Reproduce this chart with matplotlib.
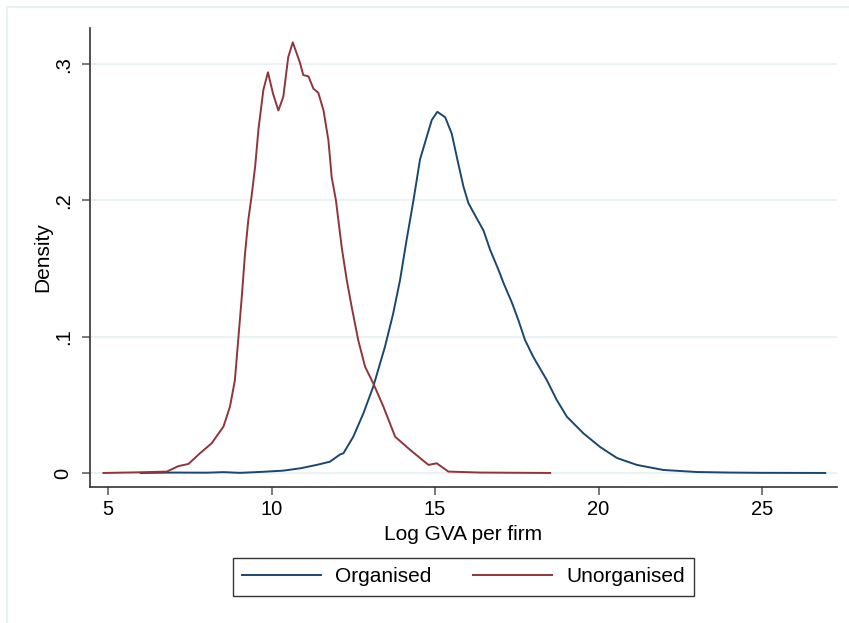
import numpy as np
from matplotlib import pyplot as plt

# kernel density curves
org_x = [6.0, 7.0, 8.0, 8.53, 9.04, 9.7, 10.36, 10.9, 11.38, 11.79, 12.09, 12.2, 12.5,
         12.81, 13.11, 13.47, 13.72, 13.93, 14.13, 14.34, 14.54, 14.75, 14.9, 15.07,
         15.31, 15.51, 15.71, 15.87, 16.02, 16.27, 16.48, 16.68, 16.94, 17.1, 17.35,
         17.55, 17.75, 18.0, 18.42, 18.72, 19.03, 19.54, 20.05, 20.56, 21.17, 21.98,
         23.0, 24.0, 25.0, 26.93]
org_y = [0.0, 0.0003, 0.0002, 0.0006, 0.0001, 0.0008, 0.0017, 0.0035, 0.0059, 0.0083,
         0.0135, 0.0145, 0.0266, 0.0438, 0.0633, 0.0927, 0.117, 0.1416, 0.171, 0.2,
         0.23, 0.247, 0.259, 0.265, 0.261, 0.249, 0.227, 0.21, 0.198, 0.187, 0.178,
         0.164, 0.149, 0.139, 0.125, 0.112, 0.0976, 0.0853, 0.068, 0.0536, 0.0413,
         0.029, 0.019, 0.011, 0.0059, 0.0022, 0.0007, 0.0003, 0.0001, 0.0]

unorg_x = [4.86, 6.0, 6.8, 7.15, 7.46, 7.81, 8.17, 8.53, 8.73, 8.88, 8.99, 9.09, 9.19,
           9.29, 9.39, 9.5, 9.6, 9.75, 9.89, 10.05, 10.21, 10.36, 10.51, 10.65, 10.87,
           10.97, 11.13, 11.28, 11.43, 11.59, 11.74, 11.84, 11.97, 12.15, 12.3, 12.45,
           12.65, 12.86, 13.11, 13.42, 13.78, 14.24, 14.8, 15.05, 15.41, 16.38, 18.52]
unorg_y = [0.0, 0.0005, 0.001, 0.005, 0.0066, 0.0144, 0.0218, 0.034, 0.0487, 0.068,
           0.1, 0.129, 0.161, 0.1856, 0.203, 0.225, 0.252, 0.281, 0.294, 0.278, 0.266,
           0.276, 0.305, 0.316, 0.301, 0.292, 0.291, 0.282, 0.279, 0.266, 0.244, 0.217,
           0.2, 0.165, 0.1416, 0.122, 0.0976, 0.078, 0.0658, 0.0487, 0.0266, 0.0169,
           0.0059, 0.0071, 0.001, 0.0003, 0.0]

x_ticks = [5, 10, 15, 20, 25]
y_ticks = [0, 0.1, 0.2, 0.3]
y_labels = ['0', '.1', '.2', '.3']

plt.rcParams['font.family'] = ['Liberation Sans', 'DejaVu Sans']

fig = plt.figure(figsize=(8.49, 6.23), dpi=100)
ax = fig.add_axes([90/849, 1-487/623, (837-90)/849, (487-28)/623])

# faint outer graph region border
fig.add_artist(plt.Line2D([7/849, 1], [1-7/623, 1-7/623], color='#eaf1f3', lw=1.5))
fig.add_artist(plt.Line2D([7/849, 7/849], [0, 1-7/623], color='#eaf1f3', lw=1.5))

ax.plot(org_x, org_y, color='#1a476f', lw=1.4, label='Organised')
ax.plot(unorg_x, unorg_y, color='#90353b', lw=1.4, label='Unorganised')

ax.set_xlim(4.45, 27.29)
ax.set_ylim(-0.0103, 0.3265)
ax.set_xticks(x_ticks)
ax.set_yticks(y_ticks)
ax.set_yticklabels(y_labels, rotation=90, va='center')
for y in y_ticks:
    ax.axhline(y, color='#eaf2f3', lw=1.5, zorder=0)

for s in ['top', 'right']:
    ax.spines[s].set_visible(False)
for s in ['left', 'bottom']:
    ax.spines[s].set_color('#333333')
    ax.spines[s].set_linewidth(1.2)
ax.tick_params(axis='both', length=5.5, width=1.1, color='#555555', labelsize=14.5)
ax.tick_params(axis='y', pad=7)
ax.tick_params(axis='x', pad=4)

ax.set_xlabel('Log GVA per firm', fontsize=15, labelpad=4)
ax.set_ylabel('Density', fontsize=15, labelpad=1)

leg = fig.legend(loc='center', bbox_to_anchor=(463.5/849, 1-577/623), ncol=2,
                 fontsize=15, frameon=True, fancybox=False, handlelength=3.8,
                 handletextpad=0.67, columnspacing=2.0, borderpad=0.45)
leg.get_frame().set_edgecolor('black')
leg.get_frame().set_linewidth(1.0)

fig.savefig('out.png', dpi=100)
